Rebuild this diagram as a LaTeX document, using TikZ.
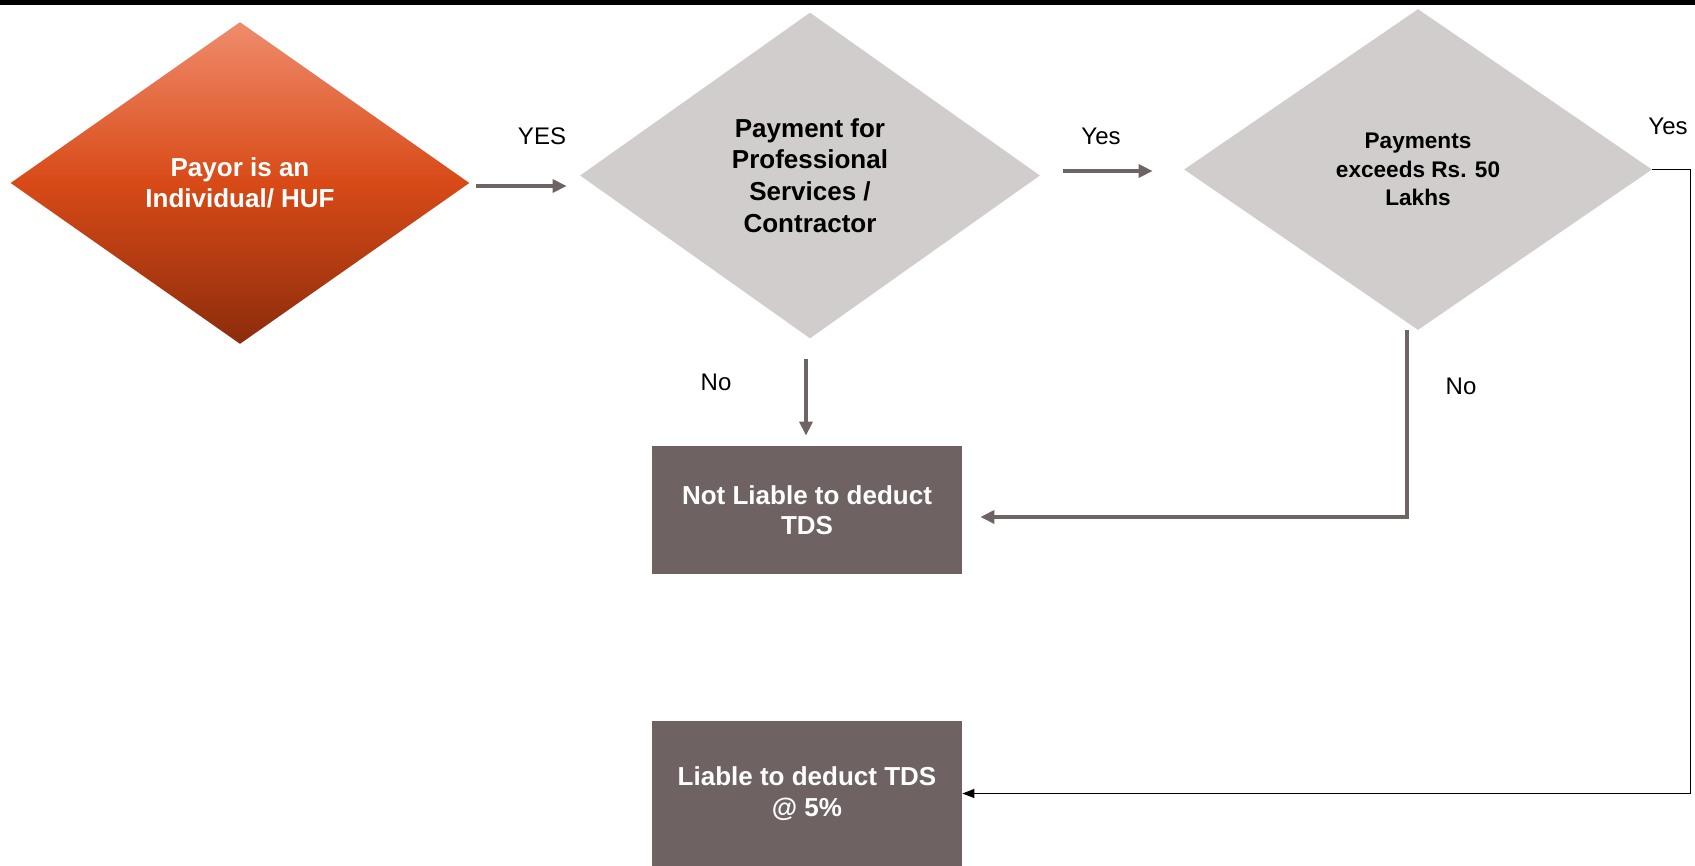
\documentclass[tikz,border=0pt]{standalone}
\usepackage{fontspec}
\setmainfont{Liberation Sans}
\usetikzlibrary{shapes.geometric}
\usetikzlibrary{arrows.meta}
\usetikzlibrary{positioning}

\definecolor{decgray}{RGB}{208,205,204}
\definecolor{boxgray}{RGB}{110,99,98}
\definecolor{flowgray}{RGB}{110,100,100}
\definecolor{orangetop}{RGB}{239,140,108}
\definecolor{orangemid}{RGB}{216,74,23}
\definecolor{orangebot}{RGB}{140,44,12}

\begin{document}
\begin{tikzpicture}[x=0.5pt,y=-0.5pt,
    decision/.style={diamond, inner sep=0pt, align=center, font=\fontsize{13}{15.8}\selectfont\bfseries},
    result/.style={rectangle, fill=boxgray, text=white, inner sep=0pt, minimum width=155pt, align=center, font=\fontsize{13}{14.9}\selectfont\bfseries},
    flow/.style={draw=flowgray, line width=2pt, -{Triangle[length=7pt,width=6.5pt]}},
    thinflow/.style={draw=black, line width=0.6pt, -{Triangle[length=6pt,width=4.5pt]}},
    answer/.style={font=\fontsize{12}{14}\selectfont}]
    \useasboundingbox (0,0) rectangle (1695,866);

    % Top bar
    \fill[black] (0,0) rectangle (1695,5);

    % Decisions
    \node[decision, minimum width=229.5pt, minimum height=161pt, text=white,
          top color=orangetop, bottom color=orangebot, middle color=orangemid]
          (payor) at (240,183) {Payor is an\\Individual/ HUF};
    \node[decision, fill=decgray, minimum width=230pt, minimum height=163pt]
          (prof) at (810,175.5) {Payment for\\Professional\\Services /\\Contractor};
    \node[decision, fill=decgray, minimum width=234pt, minimum height=160.5pt,
          font=\fontsize{11.3}{14.3}\selectfont\bfseries]
          (exceed) at (1418,169.5) {Payments\\exceeds Rs. 50\\Lakhs};

    % Results
    \node[result, minimum height=64pt] (notliable) at (807,510) {Not Liable to deduct\\TDS};
    \node[result, minimum height=72.5pt, font=\fontsize{13}{15.2}\selectfont\bfseries]
          (liable) at (807,793.5) {\rule{0pt}{6pt}Liable to deduct TDS\\@ 5\%};

    % Labels
    \node[answer] (yes1) at (542,136) {YES};
    \node[answer] (yes2) at (1101,136) {Yes};
    \node[answer] (yes3) at (1668,126) {Yes};
    \node[answer] (no1) at (716,382) {No};
    \node[answer] (no2) at (1461,386) {No};

    % Connectors
    \draw[flow] ([shift={(6,3)}]payor.east) -- ([shift={(-13,10.5)}]prof.west);
    \draw[flow] ([shift={(23,-4.5)}]prof.east) -- ([shift={(-31,1.5)}]exceed.west);
    \draw[flow] ([shift={(-4,20)}]prof.south) -- ([shift={(-1,-10)}]notliable.north);
    \draw[flow] ([shift={(-11,0)}]exceed.south) |- ([shift={(18,7)}]notliable.east);
    \draw[thinflow] (exceed.east) -- ++(38,0) |- (liable.east);
\end{tikzpicture}
\end{document}
